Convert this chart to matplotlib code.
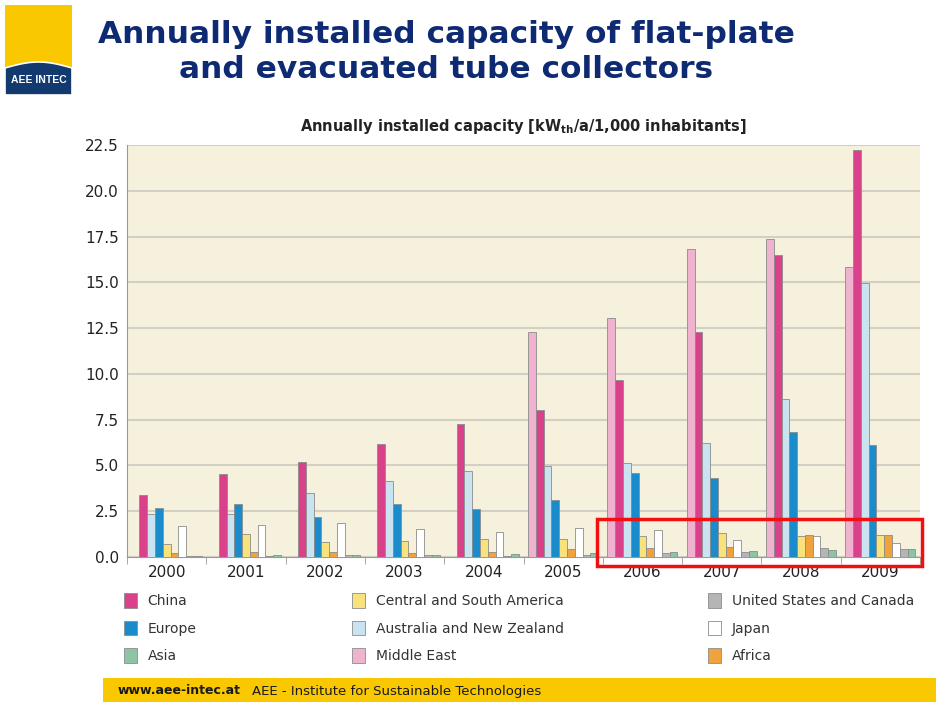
import numpy as np
import matplotlib
matplotlib.use('Agg')
import matplotlib.pyplot as plt
from matplotlib.patches import Rectangle, Polygon

years = ['2000', '2001', '2002', '2003', '2004', '2005', '2006', '2007', '2008', '2009']

# bar order inside each year group, left to right
middle_east = [0, 0, 0, 0, 0, 12.3, 13.05, 16.8, 17.35, 15.85]
china = [3.4, 4.55, 5.2, 6.15, 7.28, 8.05, 9.65, 12.28, 16.5, 22.2]
australia_nz = [2.33, 2.35, 3.48, 4.17, 4.7, 4.97, 5.16, 6.21, 8.62, 14.95]
europe = [2.65, 2.9, 2.2, 2.9, 2.64, 3.11, 4.57, 4.33, 6.82, 6.1]
central_south_america = [0.72, 1.25, 0.83, 0.88, 0.98, 1.0, 1.14, 1.3, 1.13, 1.2]
africa = [0.21, 0.25, 0.25, 0.24, 0.27, 0.46, 0.5, 0.57, 1.22, 1.2]
japan = [1.7, 1.75, 1.86, 1.54, 1.38, 1.57, 1.45, 0.94, 1.15, 0.78]
usa_canada = [0.07, 0.04, 0.1, 0.1, 0.07, 0.1, 0.21, 0.28, 0.47, 0.41]
asia = [0.07, 0.1, 0.1, 0.13, 0.15, 0.2, 0.27, 0.33, 0.36, 0.41]

series = [
    ('Middle East', middle_east, '#f0b3cf'),
    ('China', china, '#d9418a'),
    ('Australia and New Zealand', australia_nz, '#c9e3f1'),
    ('Europe', europe, '#1a8ccc'),
    ('Central and South America', central_south_america, '#f7e27c'),
    ('Africa', africa, '#f0a23c'),
    ('Japan', japan, '#ffffff'),
    ('United States and Canada', usa_canada, '#b5b5b5'),
    ('Asia', asia, '#8cc4a4'),
]
legend_cols = [['China', 'Europe', 'Asia'],
               ['Central and South America', 'Australia and New Zealand', 'Middle East'],
               ['United States and Canada', 'Japan', 'Africa']]

W, H = 937, 702


def fx(px):
    return px / W


def fy(py):
    return 1 - py / H


fig = plt.figure(figsize=(9.37, 7.02), dpi=100)
fig.patch.set_facecolor('white')

ax = fig.add_axes([fx(127), fy(557), fx(920) - fx(127), fy(145) - fy(557)])
ax.set_facecolor('#f6f1dc')

x = np.arange(len(years))
bw = 0.098
handles = {}
for i, (name, vals, col) in enumerate(series):
    off = (i - (len(series) - 1) / 2) * bw
    bars = ax.bar(x + off, vals, width=bw, color=col, edgecolor='#8c8c8c', linewidth=0.6,
                  label=name, zorder=3)
    handles[name] = bars

ax.set_xlim(-0.5, len(years) - 0.5)
ax.set_ylim(0, 22.5)
ax.set_yticks(np.arange(0, 22.6, 2.5))
ax.set_yticklabels(['%.1f' % v for v in np.arange(0, 22.6, 2.5)])
ax.set_xticks(x)
ax.set_xticklabels(years)
ax.set_xticks(np.arange(-0.5, len(years), 1.0), minor=True)
ax.tick_params(axis='x', which='major', length=0, pad=6, labelsize=11, colors='#222222')
ax.tick_params(axis='x', which='minor', length=5, color='#999999')
ax.tick_params(axis='y', length=0, pad=6, labelsize=11, colors='#222222')
ax.grid(axis='y', color='#d3cfc4', linewidth=1.5, zorder=0)
ax.set_axisbelow(True)
for s in ['top', 'right']:
    ax.spines[s].set_visible(False)
for s in ['left', 'bottom']:
    ax.spines[s].set_color('#9a9a9a')

ax.set_title(r'Annually installed capacity [kW$_{\mathbf{th}}$/a/1,000 inhabitants]',
             fontsize=10.5, fontweight='bold', pad=10, color='#222222')

# legend: three separate columns
for cx, names in zip([124, 352, 708], legend_cols):
    leg = fig.legend([handles[n] for n in names], names, ncol=1,
                     loc='upper left', bbox_to_anchor=(fx(cx), fy(593)), frameon=False,
                     fontsize=10, handlelength=0.95, handleheight=1.25, handletextpad=0.75,
                     labelspacing=0.9, borderpad=0, borderaxespad=0)
    for t in leg.get_texts():
        t.set_color('#333333')

# title
fig.text(fx(446), fy(52), 'Annually installed capacity of flat-plate\nand evacuated tube collectors',
         ha='center', va='center', fontsize=22.5, fontweight='bold', color='#0d2a73',
         family='DejaVu Sans', linespacing=1.25)

# logo
fig.patches.append(Rectangle((fx(5), fy(95)), fx(72) - fx(5), fy(5) - fy(95),
                             transform=fig.transFigure, facecolor='#f9c800', edgecolor='none'))
t = np.linspace(0, 1, 30)
top = 68 - 6 * np.sin(np.pi * t)
pts = [(fx(5 + 67 * a), fy(b)) for a, b in zip(t, top)] + [(fx(72), fy(95)), (fx(5), fy(95))]
fig.patches.append(Polygon(pts, closed=True, transform=fig.transFigure,
                           facecolor='#123a6e', edgecolor='white', linewidth=1.2))
fig.text(fx(38.5), fy(80), 'AEE INTEC', ha='center', va='center', fontsize=7.5,
         fontweight='bold', color='white', family='Liberation Sans')

# red highlight box
fig.patches.append(Rectangle((fx(597), fy(566)), fx(922) - fx(597), fy(519) - fy(566),
                             transform=fig.transFigure, facecolor='none',
                             edgecolor='#f01010', linewidth=2.5))

# footer band
fig.patches.append(Rectangle((fx(103), 0), 1 - fx(103), fy(678),
                             transform=fig.transFigure, facecolor='#f9c800', edgecolor='none'))
fig.text(fx(118), fy(691), 'www.aee-intec.at', ha='left', va='center', fontsize=9,
         fontweight='bold', color='#1a1a1a')
fig.text(fx(252), fy(691), 'AEE - Institute for Sustainable Technologies', ha='left',
         va='center', fontsize=9.5, color='#1a1a1a')

fig.savefig('out.png', dpi=100)
